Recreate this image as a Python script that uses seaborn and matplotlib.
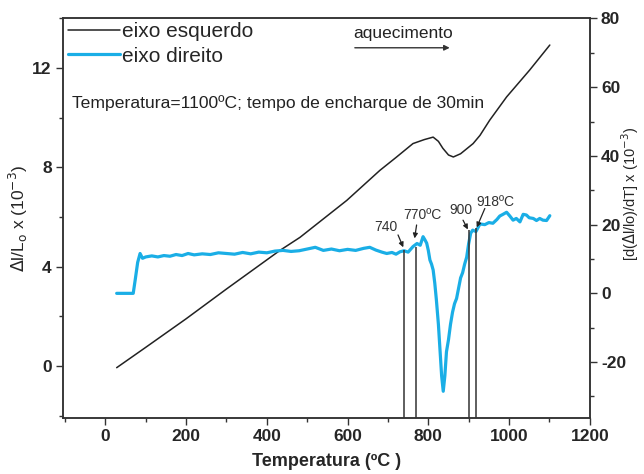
import matplotlib
matplotlib.use("Agg")
import matplotlib.pyplot as plt
import seaborn as sns
import pandas as pd
from matplotlib.ticker import MultipleLocator

# ---- data ----
black_T = [28, 100, 200, 300, 432, 482, 598, 680, 720, 762, 790, 812, 825, 836, 850,
           862, 880, 911, 928, 952, 994, 1051, 1101]
black_v = [-0.07, 0.75, 1.9, 3.1, 4.65, 5.18, 6.67, 7.88, 8.4, 8.96, 9.12, 9.22, 9.05,
           8.77, 8.5, 8.42, 8.55, 8.96, 9.29, 9.9, 10.84, 11.92, 12.93]

blue_T = [28, 45, 60, 69, 74, 80, 86, 92, 100, 115, 130, 145, 160, 175, 190, 205, 220,
          240, 260, 280, 300, 320, 340, 360, 380, 400, 420, 440, 460, 480, 500, 520, 540,
          560, 580, 600, 620, 640, 655, 670, 685, 697, 710, 720, 730, 740, 750, 762, 772,
          780, 787, 792, 796, 800, 804, 808, 812, 816, 820, 825, 829, 833, 837, 841, 845,
          850, 855, 860, 865, 870, 875, 880, 885, 890, 895, 900, 905, 910, 918, 928, 940,
          950, 960, 970, 977, 985, 994, 1002, 1010, 1018, 1027, 1035, 1043, 1050, 1060,
          1068, 1076, 1084, 1093, 1101]
blue_v = [0, 0, 0, 0, 4, 9, 11.6, 10.2, 10.6, 10.9, 10.6, 11.0, 10.8, 11.3, 11.0, 11.6,
          11.2, 11.5, 11.3, 11.8, 11.6, 11.4, 11.9, 11.5, 12.0, 11.8, 12.3, 12.5, 12.2,
          12.4, 12.9, 13.4, 12.5, 12.9, 12.4, 12.8, 12.5, 13.1, 13.4, 12.6, 12.0, 11.6,
          11.9, 11.4, 12.1, 12.4, 12.0, 13.6, 14.5, 14.0, 16.5, 15.5, 14.6, 12.5, 9.7, 8.5,
          6.8, 3.0, -1.9, -9, -16.5, -24, -28.5, -24, -17, -13.5, -9, -5.5, -3.0, -1.5,
          1.5, 4.5, 6.0, 8.5, 10.5, 14.5, 17.5, 18.4, 18.0, 20.2, 20.0, 20.6, 20.4, 21.5,
          22.5, 23.0, 23.6, 22.5, 21.3, 21.8, 20.8, 23.0, 22.8, 22.0, 21.8, 21.2, 21.8,
          21.3, 21.2, 22.6]

trans_T = [740, 770, 900, 918]
trans_top = [12.6, 13.6, 18.4, 18.9]
trans_labels = ["740", "770ºC", "900", "918ºC"]

x_ticks = [0, 200, 400, 600, 800, 1000, 1200]
left_ticks = [0, 4, 8, 12]
right_ticks = [-20, 0, 20, 40, 60, 80]

# ---- style ----
sns.set_theme(style="ticks")
plt.rcParams['font.family'] = ['Liberation Sans', 'DejaVu Sans']
plt.rcParams['axes.edgecolor'] = '#333333'
plt.rcParams['axes.linewidth'] = 1.1
plt.rcParams['axes.unicode_minus'] = False

fig = plt.figure(figsize=(6.44, 4.74), dpi=100)
ax = fig.add_axes([0.0978, 0.118, 0.818, 0.843])
ax2 = ax.twinx()

BLUE = '#1aaee6'
df_b = pd.DataFrame({"T": black_T, "v": black_v})
df_c = pd.DataFrame({"T": blue_T, "v": blue_v})
sns.lineplot(data=df_b, x="T", y="v", ax=ax, color='#222222', linewidth=1.1)
sns.lineplot(data=df_c, x="T", y="v", ax=ax2, color=BLUE, linewidth=2.3)

ax.set_xlim(-105, 1200)
ax.set_ylim(-2.1, 14.0)
ax2.set_ylim(-36.3, 80)

# vertical transition lines
ax2.vlines(trans_T, -36.3, trans_top, color='#333333', linewidth=1.1)

# annotations
lab_pos = [(696, 19.4), (786, 22.8), (882, 24.2), (965, 26.7)]
arr_from = [(725, 17.0), (771, 19.9), (886, 21.3), (940, 24.7)]
arr_to = [(738, 13.4), (766, 16.0), (898, 18.6), (920, 19.2)]
for lab, p, a, b in zip(trans_labels, lab_pos, arr_from, arr_to):
    ax2.text(p[0], p[1], lab, ha='center', va='center', fontsize=10, color='#333333')
    ax2.annotate("", xy=b, xytext=a,
                 arrowprops=dict(arrowstyle='-|>', color='#222222', lw=0.9,
                                 mutation_scale=7, shrinkA=0, shrinkB=0))

ax.text(738, 13.41, "aquecimento", ha='center', va='center', fontsize=12.5, color='#222222')
ax.annotate("", xy=(853, 12.82), xytext=(618, 12.82),
            arrowprops=dict(arrowstyle='-|>', color='#333333', lw=1.0,
                            mutation_scale=8, shrinkA=0, shrinkB=0))
ax.text(-83, 10.59, "Temperatura=1100ºC; tempo de encharque de 30min",
        ha='left', va='center', fontsize=12.6, color='#222222')

# ticks
ax.set_xticks(x_ticks)
ax.xaxis.set_minor_locator(MultipleLocator(100))
ax.set_yticks(left_ticks)
ax.yaxis.set_minor_locator(MultipleLocator(2))
ax2.set_yticks(right_ticks)
ax2.yaxis.set_minor_locator(MultipleLocator(10))
for a in (ax, ax2):
    a.tick_params(which='major', length=5, width=1.0, color='#333333',
                  labelsize=12.5, pad=3)
    a.tick_params(which='minor', length=3, width=1.0, color='#333333')
    for t in a.get_xticklabels() + a.get_yticklabels():
        t.set_fontweight('bold')
ax2.tick_params(axis='y', which='both', right=True, left=False)
ax.tick_params(axis='x', which='both', top=False)

ax.set_xlabel("Temperatura (ºC )", fontsize=13, fontweight='bold', labelpad=6)
ax.set_ylabel(r"$\Delta$l/L$_\mathrm{o}$ x (10$^{-3}$)", fontsize=12.5, labelpad=2)
ax2.set_ylabel(r"[d($\Delta$l/lo)/dT] x (10$^{-3}$)", fontsize=10.5)
ax2.yaxis.label.set_rotation(90)
ax2.yaxis.set_label_coords(1.077, 0.56)
ax2.yaxis.label.set_va('center')
ax2.yaxis.label.set_ha('center')

# legend
h1 = ax.get_lines()[0]
h2 = ax2.get_lines()[0]
leg = ax.legend([h1, h2], ["eixo esquerdo", "eixo direito"], loc='upper left',
                bbox_to_anchor=(0.0095, 0.99), frameon=False, fontsize=15,
                handlelength=2.5, handletextpad=0.1, borderpad=0.0,
                borderaxespad=0.0, labelspacing=0.25)

for s in ['top', 'bottom', 'left', 'right']:
    ax.spines[s].set_visible(True)
    ax2.spines[s].set_visible(True)

fig.savefig("out.png", dpi=100)
